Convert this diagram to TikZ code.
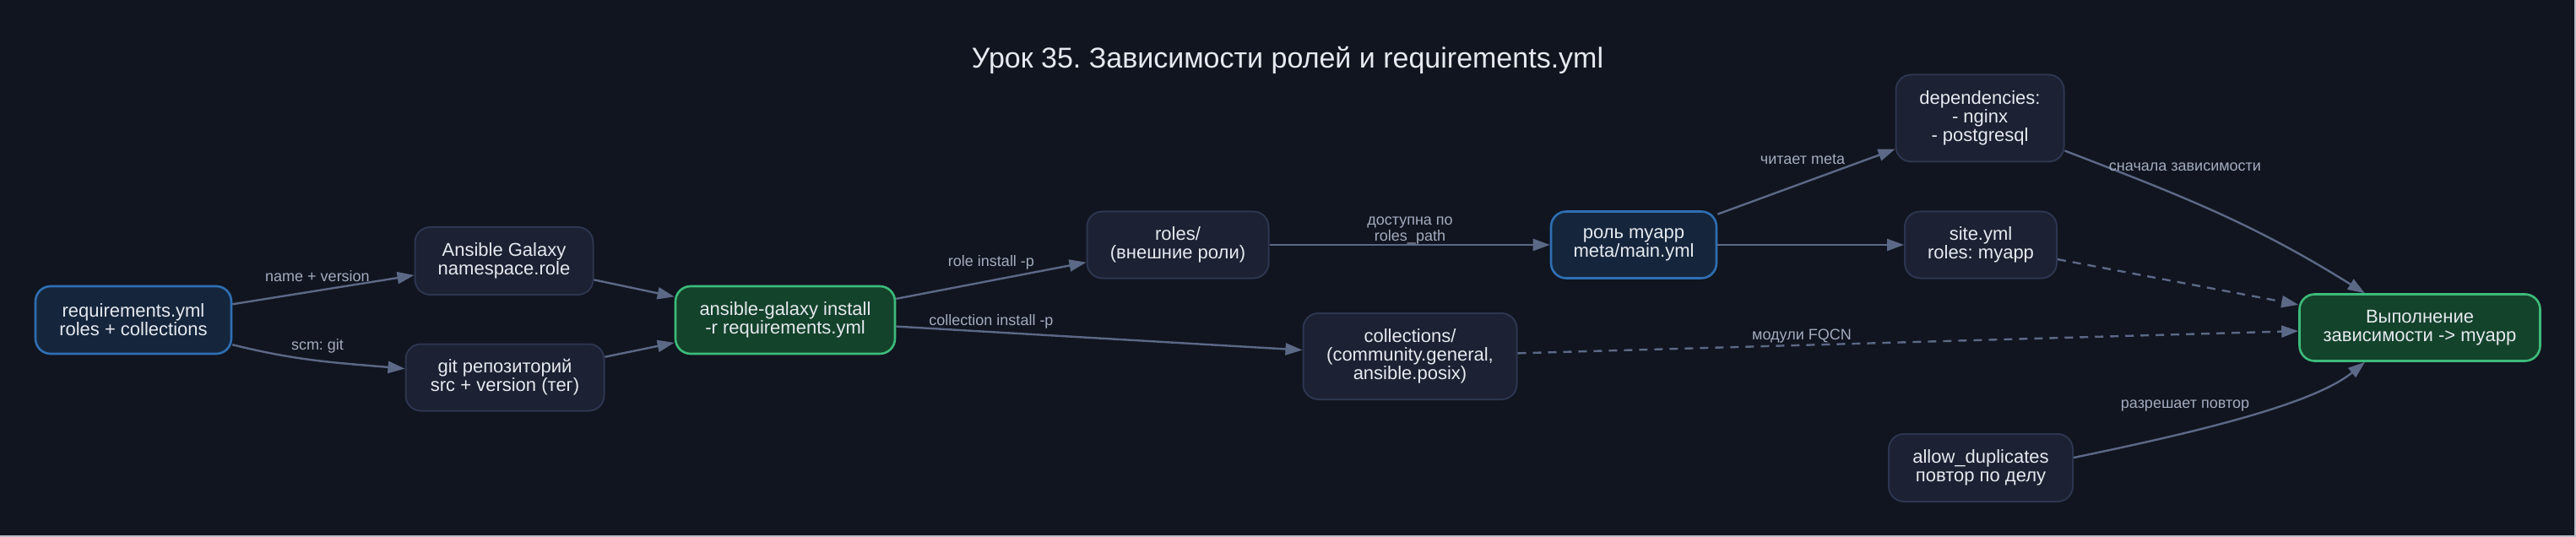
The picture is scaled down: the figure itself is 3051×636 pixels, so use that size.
\documentclass[tikz,border=0pt]{standalone}
\usepackage{fontspec}
\setmainfont{Liberation Sans}
\usetikzlibrary{arrows.meta}
\definecolor{bg}{HTML}{11151F}
\definecolor{nfill}{HTML}{1C2133}
\definecolor{ndraw}{HTML}{2D3650}
\definecolor{bfill}{HTML}{15263C}
\definecolor{bdraw}{HTML}{2F6FB3}
\definecolor{gfill}{HTML}{14432C}
\definecolor{gdraw}{HTML}{3DBB7B}
\definecolor{edgec}{HTML}{5B6987}
\definecolor{lblc}{HTML}{A3ACBF}
\definecolor{txt}{HTML}{E6E9EF}
\definecolor{frame}{HTML}{B8BCC6}
\frenchspacing
\begin{document}
\begin{tikzpicture}[x=0.5pt,y=-0.5pt,
  box/.style={draw=ndraw, fill=nfill, line width=1pt, rounded corners=9pt, text=txt,
    font=\fontsize{11}{11}\selectfont, align=center, inner sep=0pt},
  bluebox/.style={box, draw=bdraw, fill=bfill, line width=1.3pt},
  greenbox/.style={box, draw=gdraw, fill=gfill, line width=1.3pt},
  conn/.style={draw=edgec, line width=1.2pt, -{Triangle[length=10pt,width=7pt]}},
  dconn/.style={conn, dash pattern=on 5pt off 4pt},
  lbl/.style={text=lblc, font=\fontsize{9}{9.5}\selectfont, align=center, inner sep=0pt},
  sz/.style 2 args={minimum width=#1pt, minimum height=#2pt},
]
\fill[bg] (0,0) rectangle (3051,636);
\useasboundingbox (0,0) rectangle (3051,636);
\draw[frame, line width=1pt] (0,635) -- (3050,635) -- (3050,0);

\node[font=\fontsize{17}{20}\selectfont, text=txt, inner sep=0pt] (title) at (1525,71)
  {Урок 35. Зависимости ролей и requirements.yml};

\node[bluebox, sz={116}{40}] (req) at (158,379) {requirements.yml\\roles + collections};
\node[box, sz={105.5}{40}] (galaxy) at (597,309) {Ansible Galaxy\\namespace.role};
\node[box, sz={117.5}{39.5}] (git) at (598,447) {git репозиторий\\src + version (тег)};
\node[greenbox, sz={130}{40}] (install) at (930,379) {ansible-galaxy install\\-r requirements.yml};
\node[box, sz={107.5}{39.5}] (roles) at (1395,290) {roles/\\(внешние роли)};
\node[box, sz={126.5}{51}] (coll) at (1670,422) {collections/\\(community.general,\\ansible.posix)};
\node[bluebox, sz={98}{39.5}] (myapp) at (1935,290) {роль myapp\\meta/main.yml};
\node[box, sz={99.5}{51.5}] (deps) at (2345,140) {dependencies:\\- nginx\\- postgresql};
\node[box, sz={90}{39.5}] (site) at (2346,290) {site.yml\\roles: myapp};
\node[greenbox, sz={142.5}{39.5}] (exec) at (2866,388) {Выполнение\\зависимости -> myapp};
\node[box, sz={109}{40}] (allow) at (2346,554) {allow\_duplicates\\повтор по делу};

\draw[conn] (req) -- (galaxy);
\draw[conn] (req) to[out=-14, in=175] (git);
\draw[conn] (galaxy) -- (install);
\draw[conn] (git) -- (install);
\draw[conn] (install) -- (roles);
\draw[conn] (install) -- (coll);
\draw[conn] (roles) -- (myapp);
\draw[conn] (myapp) -- (deps);
\draw[conn] (myapp) -- (site);
\draw[conn] (deps) to[out=-21, in=148] (exec);
\draw[dconn] (site) -- (exec);
\draw[dconn] (coll) -- (exec);
\draw[conn] ([yshift=6pt]allow.east) .. controls +(145,-30) and +(-61,50) .. ([xshift=-32.5pt]exec.south);

\node[lbl] (l1) at (376,327) {name + version};
\node[lbl] (l2) at (376,410) {scm: git};
\node[lbl] (l3) at (1174,311) {role install -p};
\node[lbl] (l4) at (1174,381) {collection install -p};
\node[lbl] (l5) at (1670,273) {доступна по\\roles\_path};
\node[lbl] (l6) at (2135,189) {читает meta};
\node[lbl] (l7) at (2588,198) {сначала зависимости};
\node[lbl] (l8) at (2134,398) {модули FQCN};
\node[lbl] (l9) at (2588,481) {разрешает повтор};
\end{tikzpicture}
\end{document}
